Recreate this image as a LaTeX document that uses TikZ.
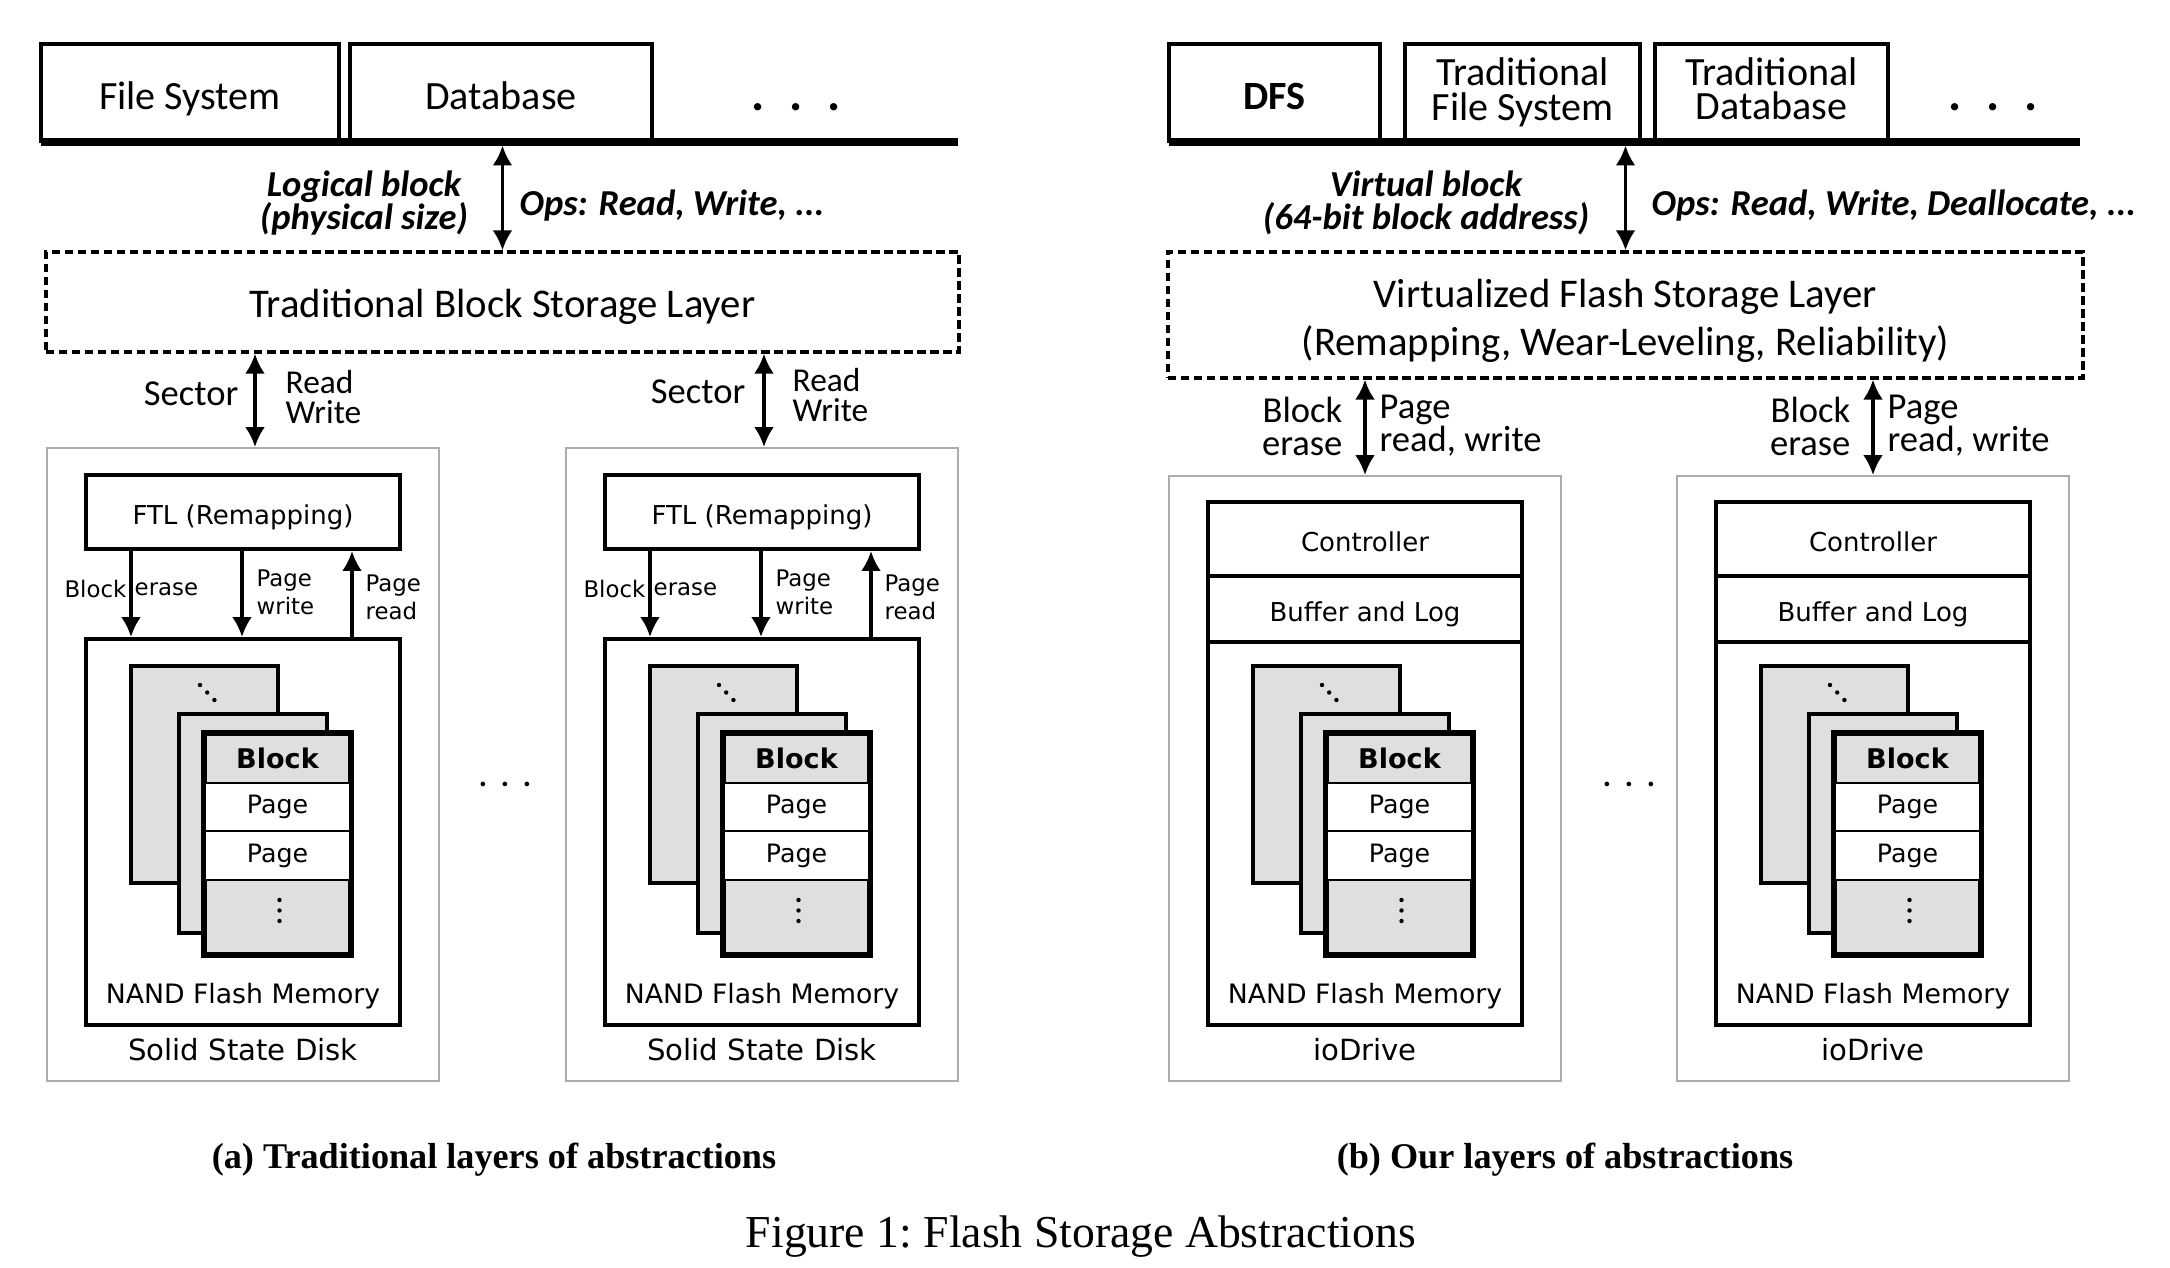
\documentclass[tikz,border=0pt]{standalone}
\usepackage{fontspec}
\setmainfont{Carlito}
\newfontfamily\devfont{DejaVu Sans}
\newfontfamily\capfont{Liberation Serif}
\usetikzlibrary{arrows.meta, positioning, calc}
\lineskiplimit=-20pt

\begin{document}
\begin{tikzpicture}[
    x=1cm, y=-1cm,
    >={Latex[length=2mm, width=2mm]},
    % estilos de cajas
    appbox/.style={rectangle, draw, line width=0.9pt, fill=white, minimum height=0.97cm, inner sep=0pt, align=center, font=\fontsize{11.4}{9.9}\selectfont},
    appone/.style={appbox, text height=9.6pt, text depth=0pt},
    layerbox/.style={rectangle, draw, dash pattern=on 2.4pt off 1.3pt, line width=0.9pt, inner sep=0pt},
    layertxt/.style={inner sep=0pt, align=center, font=\fontsize{11.6}{13.8}\selectfont},
    devbox/.style={rectangle, draw=gray!65, line width=0.5pt, inner sep=0pt},
    unitbox/.style={rectangle, draw, line width=1.1pt, fill=white, inner sep=0pt, text height=7pt, text depth=0pt, font=\devfont\fontsize{7.4}{8}\selectfont},
    blkbox/.style={rectangle, draw, line width=1.1pt, fill=gray!25, inner sep=0pt},
    pagebox/.style={rectangle, draw, line width=0.7pt, fill=white, inner sep=0pt, minimum width=1.45cm, font=\devfont\fontsize{7.2}{8}\selectfont},
    midlbl/.style={inner sep=0pt, align=center, font=\bfseries\itshape\fontsize{10.4}{9.4}\selectfont},
    seclbl/.style={inner sep=0pt, font=\fontsize{10.4}{9.4}\selectfont},
    rwlbl/.style={inner sep=0pt, align=left, font=\fontsize{9.5}{8.3}\selectfont},
    smlbl/.style={inner sep=0pt, align=left, font=\devfont\fontsize{6.5}{7.9}\selectfont},
    devlbl/.style={inner sep=0pt, font=\devfont\fontsize{7.6}{9}\selectfont},
    devname/.style={inner sep=0pt, font=\devfont\fontsize{8.3}{9}\selectfont},
    appdots/.style={inner sep=0pt, font=\bfseries\fontsize{14}{14}\selectfont},
    gapdots/.style={inner sep=0pt, font=\fontsize{11}{11}\selectfont},
    caplbl/.style={inner sep=0pt, font=\capfont\bfseries\fontsize{10.3}{12}\selectfont},
    bus/.style={line width=2pt},
    arr/.style={line width=1.1pt}
]
\useasboundingbox (0,0) rectangle (21.70,12.68);

% -------------------------
% (a) CAPAS TRADICIONALES
% -------------------------
\node[appone, minimum width=2.98cm] (fs) at (1.90,0.925) {File System};
\node[appone, minimum width=3.02cm] (db) at (5.01,0.925) {Database};
\node[appdots] (appdotsA) at (7.96,1.07) {.\hspace{7pt}.\hspace{7pt}.};
\coordinate (busLA) at (0.41,1.42);
\coordinate (busRA) at (9.58,1.42);
\draw[bus] (busLA) -- (busRA);

\node[layerbox, minimum width=9.13cm, minimum height=1.0cm] (tbsl) at (5.025,3.02) {};
\node[layertxt] (tbsltxt) at (5.025,3.07) {Traditional Block Storage Layer};

\coordinate (busA) at (5.025,1.455);
\draw[<->, arr] (busA) -- (tbsl.north);
\node[midlbl] (lblA) at (3.64,2.03) {Logical block\\(physical size)};
\node[midlbl, anchor=west] (opsA) at (5.19,2.06) {Ops: Read, Write, ...};

% discos SSD
\node[devbox, minimum width=3.92cm, minimum height=6.33cm] (ssdA) at (2.43,7.645) {};
\node[devbox, minimum width=3.92cm, minimum height=6.33cm] (ssdB) at (7.62,7.645) {};

\node[unitbox, minimum width=3.14cm, minimum height=0.74cm] (ftlA) at (2.43,5.12) {FTL (Remapping)};
\node[unitbox, minimum width=3.14cm, minimum height=3.86cm] (nandA) at (2.43,8.32) {};
\node[unitbox, minimum width=3.14cm, minimum height=0.74cm] (ftlB) at (7.62,5.12) {FTL (Remapping)};
\node[unitbox, minimum width=3.14cm, minimum height=3.86cm] (nandB) at (7.62,8.32) {};

\node[devlbl] (nandlblA) at (2.43,9.96) {NAND Flash Memory};
\node[devname] (ssdlblA) at (2.43,10.50) {Solid State Disk};
\node[devlbl] (nandlblB) at (7.62,9.96) {NAND Flash Memory};
\node[devname] (ssdlblB) at (7.62,10.50) {Solid State Disk};

\node[gapdots] (gapA) at (5.05,7.84) {.\hspace{3.5pt}.\hspace{3.5pt}.};

% sector
\coordinate (secA) at (2.55,0);
\coordinate (secB) at (7.64,0);
\draw[<->, arr] (tbsl.south -| secA) -- (ssdA.north -| secA);
\draw[<->, arr] (tbsl.south -| secB) -- (ssdB.north -| secB);
\node[seclbl, anchor=east] (sectA) at (2.39,3.94) {Sector};
\node[rwlbl, anchor=west] (rwA) at (2.85,3.97) {Read\\Write};
\node[seclbl, anchor=east] (sectB) at (7.46,3.92) {Sector};
\node[rwlbl, anchor=west] (rwB) at (7.92,3.95) {Read\\Write};

% FTL -> NAND
\foreach \s/\x in {A/0.86, B/6.05}{
    \coordinate (er\s) at ({\x+0.45},0);
    \coordinate (pw\s) at ({\x+1.56},0);
    \coordinate (pr\s) at ({\x+2.66},0);
    \draw[->, arr] (ftl\s.south -| er\s) -- (nand\s.north -| er\s);
    \draw[->, arr] (ftl\s.south -| pw\s) -- (nand\s.north -| pw\s);
    \draw[<-, arr] (ftl\s.south -| pr\s) -- (nand\s.north -| pr\s);
    \node[smlbl, anchor=east] (blk\s) at ({\x+0.41},5.89) {Block};
    \node[smlbl, anchor=west] (ers\s) at ({\x+0.48},5.89) {erase};
    \node[smlbl, anchor=west] (pwl\s) at ({\x+1.70},5.92) {Page\\write};
    \node[smlbl, anchor=west] (prl\s) at ({\x+2.79},5.97) {Page\\read};
}

% -------------------------
% (b) NUESTRAS CAPAS
% -------------------------
\node[appone, minimum width=2.11cm, font=\bfseries\fontsize{11.4}{9.9}\selectfont] (dfs) at (12.745,0.925) {DFS};
\node[appbox, minimum width=2.35cm] (tfs) at (15.225,0.925) {Traditional\\File System};
\node[appbox, minimum width=2.33cm, text depth=2.2pt] (tdb) at (17.715,0.925) {Traditional\\Database};
\node[appdots] (appdotsB) at (19.93,1.07) {.\hspace{7pt}.\hspace{7pt}.};
\coordinate (busLB) at (11.69,1.42);
\coordinate (busRB) at (20.80,1.42);
\draw[bus] (busLB) -- (busRB);

\node[layerbox, minimum width=9.15cm, minimum height=1.26cm] (vfsl) at (16.255,3.15) {};
\node[layertxt] (vfsltxt) at (16.255,3.21) {Virtualized Flash Storage Layer\\(Remapping, Wear-Leveling, Reliability)};

\coordinate (busB) at (16.255,1.455);
\draw[<->, arr] (busB) -- (vfsl.north);
\node[midlbl] (lblB) at (14.26,2.03) {Virtual block\\(64-bit block address)};
\node[midlbl, anchor=west] (opsB) at (16.51,2.06) {Ops: Read, Write, Deallocate, ...};

% ioDrive
\node[devbox, minimum width=3.92cm, minimum height=6.05cm] (ioA) at (13.65,7.785) {};
\node[devbox, minimum width=3.92cm, minimum height=6.05cm] (ioB) at (18.73,7.785) {};

\node[unitbox, minimum width=3.14cm, minimum height=0.74cm] (ctlA) at (13.65,5.39) {Controller};
\node[unitbox, minimum width=3.14cm, minimum height=0.66cm] (bufA) at (13.65,6.09) {Buffer and Log};
\node[unitbox, minimum width=3.14cm, minimum height=3.83cm] (nandC) at (13.65,8.335) {};
\node[unitbox, minimum width=3.14cm, minimum height=0.74cm] (ctlB) at (18.73,5.39) {Controller};
\node[unitbox, minimum width=3.14cm, minimum height=0.66cm] (bufB) at (18.73,6.09) {Buffer and Log};
\node[unitbox, minimum width=3.14cm, minimum height=3.83cm] (nandD) at (18.73,8.335) {};

\node[devlbl] (nandlblC) at (13.65,9.96) {NAND Flash Memory};
\node[devname] (iolblA) at (13.65,10.50) {ioDrive};
\node[devlbl] (nandlblD) at (18.73,9.96) {NAND Flash Memory};
\node[devname] (iolblB) at (18.73,10.50) {ioDrive};

\node[gapdots] (gapB) at (16.29,7.84) {.\hspace{3.5pt}.\hspace{3.5pt}.};

\draw[<->, arr] (vfsl.south -| ioA.north) -- (ioA.north);
\draw[<->, arr] (vfsl.south -| ioB.north) -- (ioB.north);
\node[seclbl, anchor=east, align=right] (beA) at (13.43,4.26) {Block\\erase};
\node[seclbl, anchor=west, align=left] (prwA) at (13.79,4.26) {Page\\read, write};
\node[seclbl, anchor=east, align=right] (beB) at (18.51,4.26) {Block\\erase};
\node[seclbl, anchor=west, align=left] (prwB) at (18.87,4.26) {Page\\read, write};

% -------------------------
% BLOQUES NAND
% -------------------------
\foreach \x [count=\n] in {0.86,6.05,12.08,17.16}{
    \node[blkbox, minimum width=1.47cm, minimum height=2.17cm] (back\n) at ({\x+1.185},7.745) {};
    \foreach \d in {0,1,2}
        \fill ({\x+1.14+0.072*\d},{6.85+0.075*\d}) circle (0.022);
    \node[blkbox, minimum width=1.48cm, minimum height=2.19cm] (mid\n) at ({\x+1.67},8.235) {};
    \node[blkbox, minimum width=1.45cm, minimum height=2.20cm] (front\n) at ({\x+1.915},8.44) {};
    \node[inner sep=0pt, font=\devfont\bfseries\fontsize{7.7}{8}\selectfont] (hdr\n) at ({\x+1.915},7.585) {Block};
    \node[pagebox, minimum height=0.48cm] (pga\n) at ({\x+1.915},8.07) {Page};
    \node[pagebox, minimum height=0.49cm] (pgb\n) at ({\x+1.915},8.555) {Page};
    \foreach \d in {0,1,2}
        \fill ({\x+1.935},{9.00+0.105*\d}) circle (0.022);
    \draw[line width=1.1pt] (front\n.north west) rectangle (front\n.south east);
}

% -------------------------
% LEYENDAS
% -------------------------
\node[caplbl] (capA) at (4.94,11.60) {(a) Traditional layers of abstractions};
\node[caplbl] (capB) at (15.65,11.60) {(b) Our layers of abstractions};
\node[inner sep=0pt, font=\capfont\fontsize{13}{15}\selectfont] (figcap) at (10.81,12.37) {Figure 1:\ Flash Storage Abstractions};

\end{tikzpicture}
\end{document}
